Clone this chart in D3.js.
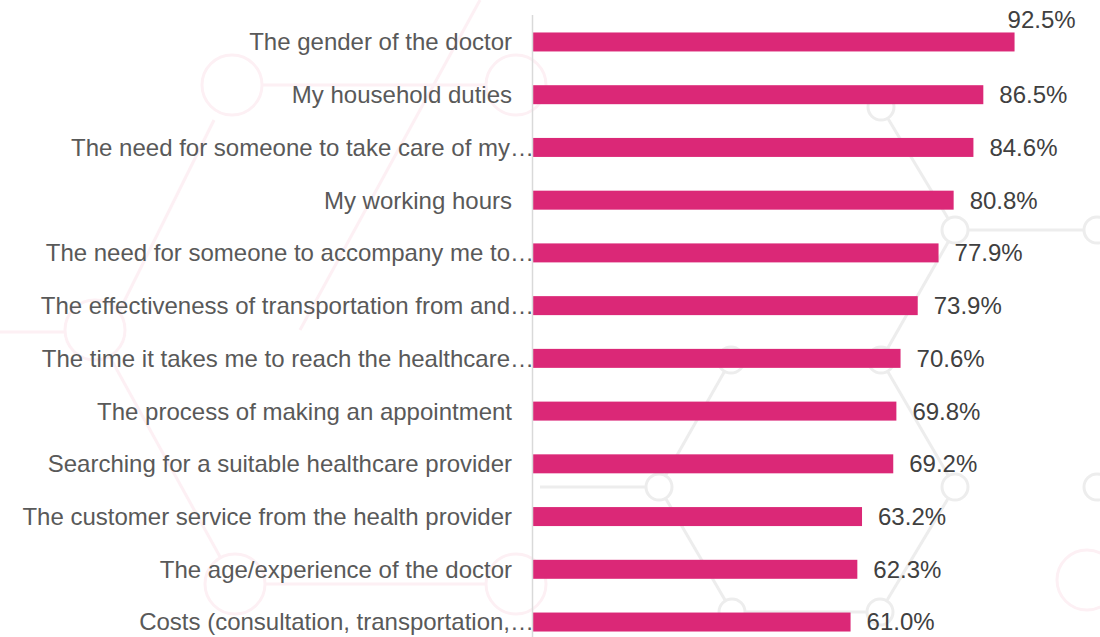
<!DOCTYPE html>
<meta charset="utf-8">
<style>
  body {
    margin: 0;
    background-color: white;
    font-family: "Liberation Sans", Arial, sans-serif;
  }
  .label { fill: #595959; font-size: 24px; }
  .value { fill: #404040; font-size: 24px; }
</style>
<body>
  <div id="chart"></div>
  <script src="https://d3js.org/d3.v7.min.js"></script>
  <script>
    const categories = [
      "The gender of the doctor",
      "My household duties",
      "The need for someone to take care of my…",
      "My working hours",
      "The need for someone to accompany me to…",
      "The effectiveness of transportation from and…",
      "The time it takes me to reach the healthcare…",
      "The process of making an appointment",
      "Searching for a suitable healthcare provider",
      "The customer service from the health provider",
      "The age/experience of the doctor",
      "Costs (consultation, transportation,…"
    ];
    const values = [92.5, 86.5, 84.6, 80.8, 77.9, 73.9, 70.6, 69.8, 69.2, 63.2, 62.3, 61.0];

    // background decoration (network pattern)
    const greyNodes = [[881,107],[955,230],[1097,230],[731,360],[881,360],[659,487],[955,487],[732,612],[880,612],[1097,487]];
    const greyEdges = [[0,1],[1,2],[4,1],[3,5],[4,6],[5,7],[6,8],[7,8]];
    const pinkNodes = [[232,85],[516,85],[95,330],[235,584],[516,584],[1087,580]];
    const pinkEdges = [[0,1],[2,3],[3,4]];

    const width = 1100, height = 637;
    const pink = "#fdf0f4", grey = "#ededed";

    const svg = d3.select("#chart")
      .append("svg")
      .attr("width", width)
      .attr("height", height);

    const deco = svg.append("g");
    deco.append("line").attr("x1", 214).attr("y1", 120).attr("x2", 110).attr("y2", 330)
      .attr("stroke", pink).attr("stroke-width", 3);
    deco.append("line").attr("x1", 0).attr("y1", 332).attr("x2", 70).attr("y2", 332)
      .attr("stroke", pink).attr("stroke-width", 3);
    deco.append("line").attr("x1", 480).attr("y1", 0).attr("x2", 300).attr("y2", 330)
      .attr("stroke", pink).attr("stroke-width", 3);
    deco.selectAll(".pe").data(pinkEdges).join("line")
      .attr("x1", d => pinkNodes[d[0]][0]).attr("y1", d => pinkNodes[d[0]][1])
      .attr("x2", d => pinkNodes[d[1]][0]).attr("y2", d => pinkNodes[d[1]][1])
      .attr("stroke", pink).attr("stroke-width", 3);
    deco.selectAll(".pn").data(pinkNodes).join("circle")
      .attr("cx", d => d[0]).attr("cy", d => d[1]).attr("r", 30)
      .attr("fill", "white").attr("stroke", pink).attr("stroke-width", 3);
    deco.selectAll(".ge").data(greyEdges).join("line")
      .attr("x1", d => greyNodes[d[0]][0]).attr("y1", d => greyNodes[d[0]][1])
      .attr("x2", d => greyNodes[d[1]][0]).attr("y2", d => greyNodes[d[1]][1])
      .attr("stroke", grey).attr("stroke-width", 3);
    deco.append("line").attr("x1", 540).attr("y1", 487).attr("x2", 646).attr("y2", 487)
      .attr("stroke", grey).attr("stroke-width", 3);
    deco.selectAll(".gn").data(greyNodes).join("circle")
      .attr("cx", d => d[0]).attr("cy", d => d[1]).attr("r", 13)
      .attr("fill", "white").attr("stroke", grey).attr("stroke-width", 3);

    const x = d3.scaleLinear()
      .domain([0, 100])
      .range([533, 1053.6]);

    const y = d3.scaleBand()
      .domain(categories)
      .range([15.6, 648.4])
      .paddingInner(0.64)
      .paddingOuter(0.32);

    const data = categories.map((c, i) => ({ name: c, value: values[i] }));

    svg.selectAll(".bar")
      .data(data)
      .join("rect")
      .attr("class", "bar")
      .attr("x", x(0))
      .attr("y", d => y(d.name))
      .attr("width", d => x(d.value) - x(0))
      .attr("height", y.bandwidth())
      .attr("fill", "#db2877");

    svg.append("line")
      .attr("x1", x(0) - 0.5)
      .attr("x2", x(0) - 0.5)
      .attr("y1", 15)
      .attr("y2", height)
      .attr("stroke", "#d9d9d9")
      .attr("stroke-width", 1.5);

    // truncated labels run right up to the axis
    svg.selectAll(".label")
      .data(data)
      .join("text")
      .attr("class", "label")
      .attr("x", d => d.name.endsWith("…") ? x(0) + 1 : 512)
      .attr("y", d => y(d.name) + y.bandwidth() / 2)
      .attr("dy", "0.35em")
      .attr("text-anchor", "end")
      .text(d => d.name);

    svg.selectAll(".value")
      .data(data)
      .join("text")
      .attr("class", "value")
      .attr("x", (d, i) => i === 0 ? x(d.value) - 7 : x(d.value) + 16)
      .attr("y", (d, i) => i === 0 ? y(d.name) - 13 : y(d.name) + y.bandwidth() / 2)
      .attr("dy", "0.35em")
      .text(d => d.value.toFixed(1) + "%");
  </script>
</body>
</html>
